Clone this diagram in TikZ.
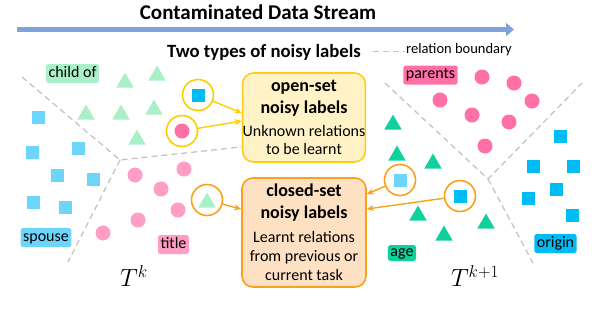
\documentclass[tikz,border=0pt]{standalone}
\usepackage{fontspec}
\setmainfont{Carlito}
\usepackage{tikz}
\usetikzlibrary{arrows.meta,positioning,shapes.geometric}
\usepackage{xcolor}

\definecolor{streamblue}{HTML}{7FA3D8}
\definecolor{boundgray}{HTML}{C4C4C4}
\definecolor{mintgreen}{HTML}{A9F0C9}
\definecolor{tealgreen}{HTML}{10D19E}
\definecolor{skyblue}{HTML}{6DD5FA}
\definecolor{deepblue}{HTML}{00BCF5}
\definecolor{softpink}{HTML}{FF9DC5}
\definecolor{hotpink}{HTML}{FF70A7}
\definecolor{ringgold}{HTML}{FFCC00}
\definecolor{ringorange}{HTML}{F9A11B}
\definecolor{openfill}{HTML}{FFF2C6}
\definecolor{openline}{HTML}{FFCC11}
\definecolor{closedfill}{HTML}{FDE1C2}
\definecolor{closedline}{HTML}{F9A11B}

\newcommand{\noisehead}{\fontsize{18}{18}\selectfont\bfseries}

\begin{document}
\begin{tikzpicture}[
    x=1pt, y=-1pt,
    tri/.style={regular polygon, regular polygon sides=3, minimum size=20pt, inner sep=0pt, yshift=-2.5pt},
    sq/.style={rectangle, minimum size=13pt, inner sep=0pt},
    dot/.style={circle, minimum size=15pt, inner sep=0pt},
    ring/.style={circle, draw, line width=1.6pt, minimum size=31pt, inner sep=0pt},
    tag/.style={rounded corners=2.5pt, inner xsep=2.5pt, inner ysep=2.25pt, text height=11pt, text depth=3.5pt,
                font=\fontsize{16}{16}\selectfont},
    setbox/.style={draw, rounded corners=11pt, line width=1.6pt, align=center, inner sep=0pt,
                   font=\fontsize{16}{18}\selectfont},
    boundary/.style={draw=boundgray, line width=1.3pt, dash pattern=on 6pt off 4pt},
    arrow/.style={-{Stealth[length=7pt, width=6pt]}, line width=1.4pt}
]
\useasboundingbox (0,0) rectangle (598,322);

% Stream
\node[font=\fontsize{21}{21}\selectfont\bfseries] (stream) at (258,12) {Contaminated Data Stream};
\coordinate (streamstart) at (17,29.5);
\coordinate (streamend) at (514,29.5);
\draw[line width=5pt, streamblue, -{Triangle[length=8pt, width=13pt]}] (streamstart) -- (streamend);

\node[font=\fontsize{18.7}{18.7}\selectfont\bfseries] (twotypes) at (264,52) {Two types of noisy labels};
\draw[boundary] (373,51.5) -- (405,51.5);
\node[anchor=west, inner sep=0pt, font=\fontsize{14.5}{14.5}\selectfont] (legend) at (406,50) {relation boundary};

% Boundaries
\draw[boundary] (22,77) -- (120,160) -- (250,146);
\draw[boundary] (120,160) -- (68,262);
\draw[boundary] (385,83) -- (488,179) -- (582,83);
\draw[boundary] (488,179) -- (533,263);

% Nodes of task k
\foreach \x/\y [count=\i] in {125/80, 157/73, 86/112, 121/112, 154/107, 137/137}
    \node[tri, fill=mintgreen] (ktri\i) at (\x,\y) {};
\foreach \x/\y [count=\i] in {38/117, 32/152, 78/148, 57/175, 93/179, 33/202, 65/207}
    \node[sq, fill=skyblue] (ksq\i) at (\x,\y) {};
\foreach \x/\y [count=\i] in {135/175, 184/169, 161/189, 178/210, 138/220, 103/233}
    \node[dot, fill=softpink] (kdot\i) at (\x,\y) {};

% Nodes of task k+1
\foreach \x/\y [count=\i] in {393/122, 397/153, 433/161, 418/213, 444/233, 486/221}
    \node[tri, fill=tealgreen] (ntri\i) at (\x,\y) {};
\foreach \x/\y [count=\i] in {560/136, 533/166, 573/166, 556/189, 528/198, 572/215}
    \node[sq, fill=deepblue] (nsq\i) at (\x,\y) {};
\foreach \x/\y [count=\i] in {482/77, 514/83, 440/100, 532/101, 472/115, 509/122, 485/146}
    \node[dot, fill=hotpink] (ndot\i) at (\x,\y) {};

% Noisy samples
\node[sq, fill=deepblue] (opensq) at (198,95) {};
\node[ring, draw=ringgold] (ringa) at (198,95) {};
\node[dot, fill=hotpink] (opendot) at (182,131) {};
\node[ring, draw=ringgold] (ringb) at (182,131) {};
\node[tri, fill=mintgreen] (closedtri) at (207,200) {};
\node[ring, draw=ringorange] (ringc) at (207,200) {};
\node[sq, fill=skyblue] (closedsq) at (400,180) {};
\node[ring, draw=ringorange] (ringd) at (400,180) {};
\node[sq, fill=deepblue] (currentsq) at (460,196) {};
\node[ring, draw=ringorange] (ringe) at (460,196) {};

% Boxes
\node[setbox, fill=openfill, draw=openline, minimum width=122pt, minimum height=89pt] (open) at (304,117.5)
    {{\noisehead open-set}\\[4pt]{\noisehead noisy labels}\\[5pt]Unknown relations\\to be learnt};
\node[setbox, fill=closedfill, draw=closedline, minimum width=124pt, minimum height=109pt] (closed) at (304,232.5)
    {{\noisehead closed-set}\\[4pt]{\noisehead noisy labels}\\[6pt]Learnt relations\\[1pt]from previous or\\[1pt]current task};

% Arrows
\draw[arrow, ringgold] (ringa) -- ([yshift=4.5pt]open.west);
\draw[arrow, ringgold] (ringb) -- ([yshift=-3.5pt]open.west);
\draw[arrow, ringorange] (ringc) -- ([yshift=23.5pt]closed.west);
\draw[arrow, ringorange] (ringd) -- ([yshift=38.5pt]closed.east);
\draw[arrow, ringorange] (ringe) -- ([yshift=23.5pt]closed.east);

% Labels
\node[tag, fill=mintgreen] (childof) at (72.5,73.5) {child of};
\node[tag, fill=skyblue] (spouse) at (46,237.5) {spouse};
\node[tag, fill=softpink] (title) at (173.5,244.5) {title};
\node[tag, fill=hotpink] (parents) at (430.5,75) {parents};
\node[tag, fill=tealgreen, text height=9pt, text depth=3pt, inner ysep=2pt] (age) at (402,253) {age};
\node[tag, fill=deepblue] (origin) at (555.5,243.5) {origin};
\node[font=\fontsize{25}{25}\selectfont] (tk) at (134,276) {$T^k$};
\node[font=\fontsize{25}{25}\selectfont] (tk1) at (475,276) {$T^{k+1}$};

\end{tikzpicture}
\end{document}
